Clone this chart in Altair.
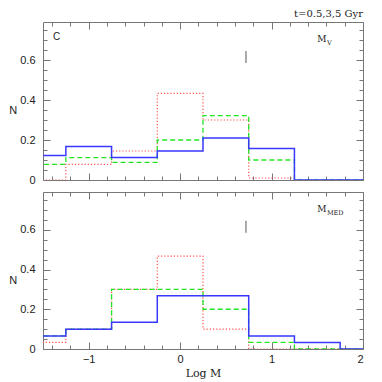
import altair as alt
import pandas as pd

# ---------------- data ----------------
edges = [-1.75, -1.25, -0.75, -0.25, 0.25, 0.75, 1.25, 1.75, 2.25]
top_blue = [0.122, 0.167, 0.112, 0.145, 0.21, 0.157, 0.0, 0.0]
top_green = [0.078, 0.112, 0.088, 0.2, 0.322, 0.1, 0.0, 0.0]
top_red = [0.0, 0.078, 0.145, 0.433, 0.3, 0.01, 0.0, 0.0]
bot_blue = [0.066, 0.1, 0.134, 0.268, 0.268, 0.066, 0.033, 0.0]
bot_green = [0.066, 0.1, 0.3, 0.3, 0.2, 0.033, 0.0, 0.0]
bot_red = [0.033, 0.1, 0.3, 0.467, 0.1, 0.0, 0.0, 0.0]

marker_x = [0.72]
marker_y = [0.585, 0.645]

x_major = [-1, 0, 1, 2]
x_minor = [-1.4, -1.2, -1.0, -0.8, -0.6, -0.4, -0.2, 0.0, 0.2, 0.4, 0.6,
           0.8, 1.0, 1.2, 1.4, 1.6, 1.8, 2.0]
y_major = [0, 0.2, 0.4, 0.6]
y_minor = [0, 0.05, 0.1, 0.15, 0.2, 0.25, 0.3, 0.35, 0.4, 0.45, 0.5, 0.55,
           0.6, 0.65, 0.7, 0.75]

X_DOMAIN = [-1.5, 2.0]
Y_DOMAIN = [0, 0.79]

BLUE = "#3838ff"
GREEN = "#22e622"
RED = "#ff5050"
FRAME = "#777777"
SANS = "Liberation Sans"
SERIF = "DejaVu Serif"

W, H = 320, 158


def step_df(b, g, r):
    return pd.DataFrame({
        "edge": edges,
        "blue": b + [b[-1]],
        "green": g + [g[-1]],
        "red": r + [r[-1]],
    })


def xs():
    return alt.Scale(domain=X_DOMAIN, nice=False, zero=False)


def ys():
    return alt.Scale(domain=Y_DOMAIN, nice=False, zero=False)


def tick_axis(orient, values, size, labels=False, **kw):
    return alt.Axis(orient=orient, values=values, tickSize=size, offset=-size,
                    domain=False, grid=False, labels=labels, ticks=True,
                    tickColor=FRAME, tickWidth=1, **kw)


def panel(df, sub_text, bottom, title=None):
    if bottom:
        xb = tick_axis("bottom", x_major, 7, labels=True, format="d",
                       labelFont=SANS, labelFontSize=11, labelColor="#222",
                       labelPadding=4, title="Log  M", titleFont=SERIF,
                       titleFontSize=11, titleFontWeight="normal",
                       titleColor="#222", titlePadding=3)
    else:
        xb = tick_axis("bottom", x_major, 7, title=None)
    yl = tick_axis("left", y_major, 7, labels=True, format=".1~f",
                   labelFont=SANS, labelFontSize=11, labelColor="#222",
                   labelPadding=8, title="N", titleFont=SANS,
                   titleFontSize=11, titleFontWeight="normal",
                   titleColor="#222", titleAngle=0, titleAlign="right",
                   titleBaseline="middle", titlePadding=3, titleY=88)

    red = alt.Chart(df).mark_line(
        interpolate="step-after", clip=True, color=RED, strokeWidth=1.2,
        strokeDash=[1.2, 2]
    ).encode(
        x=alt.X("edge:Q", scale=xs(), axis=xb),
        y=alt.Y("red:Q", scale=ys(), axis=yl),
    )
    green = alt.Chart(df).mark_line(
        interpolate="step-after", clip=True, color=GREEN, strokeWidth=1.3,
        strokeDash=[5, 3]
    ).encode(
        x=alt.X("edge:Q", scale=xs(), axis=tick_axis("bottom", x_minor, 4, title=None)),
        y=alt.Y("green:Q", scale=ys(), axis=tick_axis("left", y_minor, 4, title=None)),
    )
    blue = alt.Chart(df).mark_line(
        interpolate="step-after", clip=True, color=BLUE, strokeWidth=1.5
    ).encode(
        x=alt.X("edge:Q", scale=xs(), axis=tick_axis("top", x_major, 7, title=None)),
        y=alt.Y("blue:Q", scale=ys(), axis=tick_axis("right", y_major, 7, title=None)),
    )
    mk = pd.DataFrame({"mx": marker_x, "my1": [marker_y[0]], "my2": [marker_y[1]]})
    marker = alt.Chart(mk).mark_rule(color="#555", strokeWidth=1).encode(
        x=alt.X("mx:Q", scale=xs(), axis=tick_axis("top", x_minor, 4, title=None)),
        y=alt.Y("my1:Q", scale=ys(), axis=tick_axis("right", y_minor, 4, title=None)),
        y2="my2:Q",
    )

    layers = [red, green, blue, marker]

    if not bottom:
        c_df = pd.DataFrame({"x": [-1.39], "y": [0.715], "t": ["C"]})
        layers.append(
            alt.Chart(c_df).mark_text(font=SANS, fontSize=10, align="left",
                                      baseline="middle", color="#222").encode(
                x=alt.X("x:Q", scale=xs(), axis=None),
                y=alt.Y("y:Q", scale=ys(), axis=None),
                text="t:N")
        )
    m_df = pd.DataFrame({"x": [1.5], "y": [0.69], "t": ["M"]})
    s_df = pd.DataFrame({"x": [1.605], "y": [0.675], "t": [sub_text]})
    layers.append(
        alt.Chart(m_df).mark_text(font=SERIF, fontSize=9, align="left",
                                  baseline="alphabetic", color="#222").encode(
            x=alt.X("x:Q", scale=xs(), axis=None),
            y=alt.Y("y:Q", scale=ys(), axis=None),
            text="t:N")
    )
    layers.append(
        alt.Chart(s_df).mark_text(font=SERIF, fontSize=6.5, align="left",
                                  baseline="alphabetic", color="#222").encode(
            x=alt.X("x:Q", scale=xs(), axis=None),
            y=alt.Y("y:Q", scale=ys(), axis=None),
            text="t:N")
    )

    ch = alt.layer(*layers).resolve_axis(x="independent", y="independent")
    if title is not None:
        ch = ch.properties(width=W, height=H, title=title)
    else:
        ch = ch.properties(width=W, height=157)
    return ch


top = panel(step_df(top_blue, top_green, top_red), "V", False,
            title=alt.TitleParams("t=0.5,3,5 Gyr", anchor="end", frame="group",
                                  font=SERIF, fontSize=10, fontWeight="normal",
                                  color="#222", offset=3))
bot = panel(step_df(bot_blue, bot_green, bot_red), "MED", True)

chart = alt.vconcat(top, bot, spacing=12, bounds="flush").properties(
    padding={"left": 0, "top": 0, "right": 5, "bottom": 0},
    background="white",
).configure_view(stroke=FRAME, strokeWidth=1)

chart.save("out.html", embed_options={"renderer": "svg", "actions": False})
